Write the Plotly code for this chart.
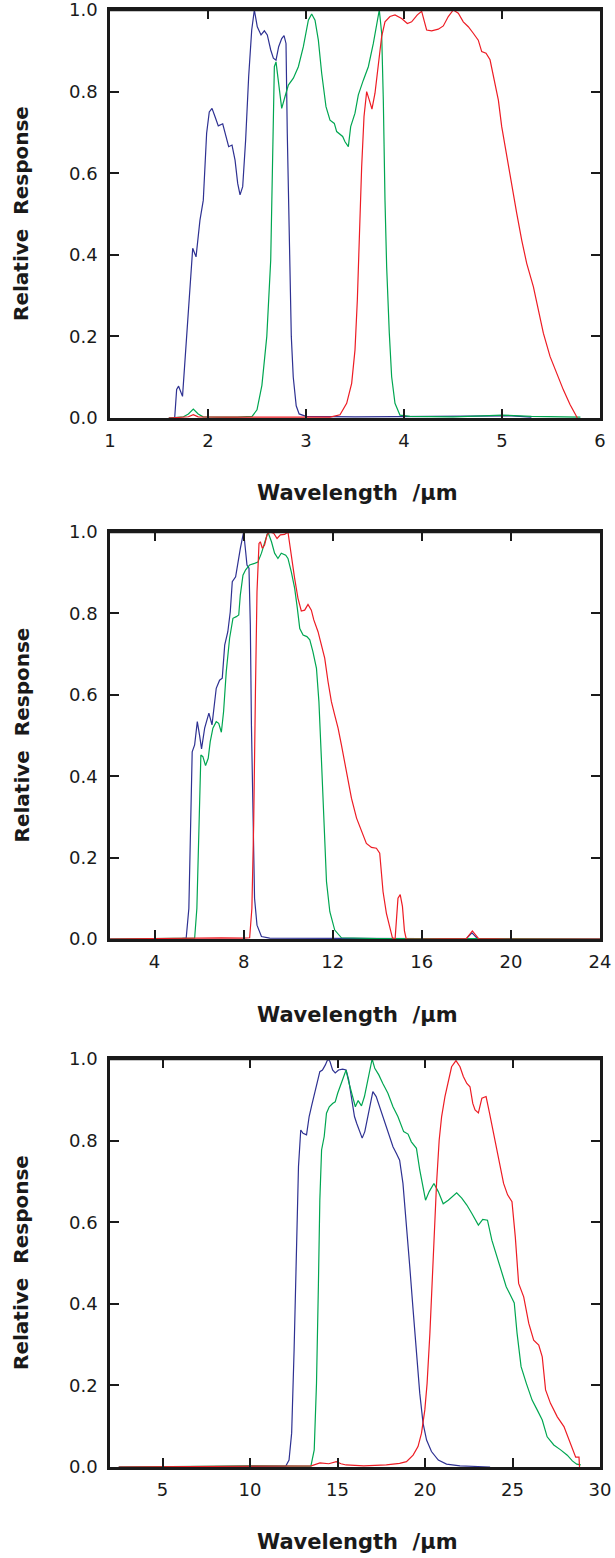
import plotly.graph_objects as go

# ---------------- Panel 1 (1-6 um) ----------------
p1_blue_x = [1.60, 1.66, 1.68, 1.70, 1.74, 1.78, 1.82, 1.844, 1.878, 1.918, 1.952, 1.986, 2.013, 2.041, 2.071,
             2.105, 2.15, 2.184, 2.211, 2.245, 2.276, 2.303, 2.327, 2.354, 2.384, 2.415, 2.446, 2.473,
             2.503, 2.541, 2.575, 2.605, 2.64, 2.667, 2.694, 2.721, 2.752, 2.776, 2.796, 2.809, 2.83,
             2.85, 2.87, 2.90, 2.93, 3.0, 3.5, 4.0, 4.5, 4.8, 5.0, 5.1, 5.3]
p1_blue_y = [0.0, 0.0, 0.07, 0.078, 0.053, 0.2, 0.35, 0.416, 0.395, 0.485, 0.534, 0.698, 0.75, 0.759, 0.739,
             0.716, 0.721, 0.69, 0.665, 0.669, 0.632, 0.575, 0.547, 0.567, 0.681, 0.837, 0.951, 1.0,
             0.959, 0.939, 0.949, 0.939, 0.902, 0.882, 0.877, 0.91, 0.93, 0.937, 0.918, 0.698, 0.395,
             0.2, 0.1, 0.03, 0.01, 0.004, 0.003, 0.004, 0.004, 0.006, 0.006, 0.005, 0.002]

p1_green_x = [1.60, 1.75, 1.80, 1.85, 1.90, 1.95, 2.1, 2.3, 2.45, 2.50, 2.55, 2.60, 2.64, 2.66, 2.677, 2.694,
              2.721, 2.752, 2.786, 2.82, 2.871, 2.922, 2.973, 3.024, 3.058, 3.092, 3.126, 3.16,
              3.204, 3.245, 3.289, 3.313, 3.374, 3.398, 3.432, 3.456, 3.5, 3.534, 3.585, 3.636,
              3.687, 3.748, 3.772, 3.789, 3.806, 3.823, 3.85, 3.874, 3.908, 3.959, 4.06, 4.5,
              4.8, 5.0, 5.3, 5.8]
p1_green_y = [0.0, 0.003, 0.01, 0.022, 0.01, 0.003, 0.002, 0.002, 0.004, 0.02, 0.08, 0.2, 0.387, 0.657, 0.861, 0.873,
              0.82, 0.759, 0.788, 0.816, 0.833, 0.861, 0.91, 0.975, 0.99, 0.975, 0.926, 0.845,
              0.763, 0.73, 0.722, 0.702, 0.69, 0.677, 0.665, 0.714, 0.747, 0.792, 0.828, 0.861,
              0.918, 1.0, 0.943, 0.779, 0.534, 0.371, 0.208, 0.101, 0.036, 0.007, 0.004, 0.003,
              0.005, 0.007, 0.004, 0.002]

p1_red_x = [1.60, 1.80, 1.85, 1.90, 2.2, 2.8, 3.245, 3.347, 3.415, 3.466, 3.5, 3.524, 3.544, 3.568, 3.592,
            3.619, 3.646, 3.673, 3.704, 3.738, 3.772, 3.806, 3.857, 3.908, 3.976, 4.034, 4.078,
            4.136, 4.18, 4.204, 4.231, 4.282, 4.35, 4.401, 4.452, 4.503, 4.554, 4.605, 4.656,
            4.707, 4.758, 4.793, 4.837, 4.878, 4.929, 4.963, 4.997, 5.048, 5.099, 5.15, 5.201,
            5.252, 5.32, 5.371, 5.422, 5.49, 5.558, 5.626, 5.694, 5.769]
p1_red_y = [0.0, 0.003, 0.008, 0.003, 0.002, 0.002, 0.002, 0.008, 0.036, 0.085, 0.167, 0.29, 0.453, 0.616, 0.739,
            0.8, 0.779, 0.757, 0.796, 0.869, 0.935, 0.971, 0.984, 0.988, 0.979, 0.967, 0.971,
            0.988, 0.997, 0.975, 0.951, 0.949, 0.953, 0.961, 0.984, 1.0, 0.992, 0.971, 0.959,
            0.943, 0.926, 0.898, 0.894, 0.878, 0.82, 0.779, 0.714, 0.641, 0.567, 0.502, 0.436,
            0.379, 0.322, 0.265, 0.208, 0.151, 0.11, 0.069, 0.033, 0.0]

# ---------------- Panel 2 (2-24 um) ----------------
p2_blue_x = [2.0, 5.0, 5.42, 5.54, 5.62, 5.69, 5.8, 5.92, 6.02, 6.11, 6.25, 6.44, 6.58, 6.65, 6.77, 6.92,
             7.04, 7.15, 7.29, 7.4, 7.49, 7.64, 7.74, 7.85, 7.94, 8.0, 8.09, 8.15, 8.24, 8.3, 8.35,
             8.42, 8.49, 8.6, 8.8, 9.17, 12.0, 16.0, 18.0, 18.25, 18.5, 20.0, 24.0]
p2_blue_y = [0.0, 0.0, 0.002, 0.075, 0.28, 0.46, 0.477, 0.534, 0.501, 0.467, 0.518, 0.555, 0.526, 0.559, 0.616, 0.636,
             0.641, 0.722, 0.755, 0.804, 0.878, 0.89, 0.927, 0.959, 0.984, 1.0, 0.952, 0.919, 0.911, 0.772, 0.526,
             0.28, 0.1, 0.034, 0.006, 0.002, 0.001, 0.001, 0.001, 0.015, 0.001, 0.0, 0.0]

p2_green_x = [2.0, 5.5, 5.8, 5.9, 5.99, 6.08, 6.17, 6.29, 6.41, 6.5, 6.62, 6.77, 6.88, 7.0, 7.1, 7.22, 7.37,
              7.52, 7.67, 7.78, 7.85, 7.97, 8.09, 8.27, 8.49, 8.64, 8.8, 8.94, 9.09, 9.25, 9.39,
              9.54, 9.69, 9.89, 9.99, 10.14, 10.29, 10.41, 10.52, 10.67, 10.84, 10.97, 11.11, 11.27,
              11.38, 11.49, 11.6, 11.72, 11.87, 12.09, 12.39, 14.0, 18.0, 24.0]
p2_green_y = [0.0, 0.001, 0.002, 0.075, 0.28, 0.452, 0.448, 0.426, 0.444, 0.485, 0.518, 0.534, 0.53, 0.508, 0.559, 0.657, 0.739,
              0.788, 0.792, 0.796, 0.845, 0.894, 0.907, 0.919, 0.923, 0.926, 0.948, 0.976, 1.0, 0.976, 0.948,
              0.935, 0.948, 0.943, 0.935, 0.902, 0.862, 0.813, 0.763, 0.747, 0.743, 0.735, 0.706, 0.665,
              0.583, 0.444, 0.28, 0.141, 0.067, 0.022, 0.003, 0.001, 0.001, 0.0]

p2_red_x = [2.0, 5.0, 6.0, 7.0, 8.0, 8.27, 8.37, 8.45, 8.53, 8.6, 8.69, 8.75, 8.84, 8.94, 9.05, 9.17, 9.35,
            9.5, 9.65, 9.84, 9.99, 10.07, 10.19, 10.29, 10.44, 10.59, 10.74, 10.89, 11.04, 11.15,
            11.34, 11.49, 11.64, 11.79, 11.94, 12.09, 12.24, 12.39, 12.54, 12.69, 12.84, 13.07,
            13.29, 13.51, 13.74, 13.96, 14.11, 14.2, 14.26, 14.41, 14.56, 14.68, 14.8, 14.93, 15.03,
            15.13, 15.22, 15.3, 16.0, 18.0, 18.27, 18.55, 20.0, 24.0]
p2_red_y = [0.0, 0.002, 0.003, 0.003, 0.002, 0.003, 0.075, 0.28, 0.608, 0.853, 0.972, 0.976, 0.96, 0.968, 0.993, 1.0, 0.997,
            0.984, 0.993, 0.994, 1.0, 0.968, 0.927, 0.886, 0.837, 0.806, 0.808, 0.822, 0.808, 0.784,
            0.755, 0.722, 0.69, 0.632, 0.583, 0.55, 0.518, 0.477, 0.436, 0.386, 0.346, 0.297,
            0.264, 0.235, 0.225, 0.223, 0.211, 0.157, 0.116, 0.063, 0.026, 0.003, 0.0, 0.1, 0.109,
            0.08, 0.02, 0.0, 0.0, 0.001, 0.02, 0.001, 0.0, 0.0]

# ---------------- Panel 3 (2-30 um) ----------------
p3_blue_x = [2.5, 6.0, 10.0, 12.04, 12.23, 12.38, 12.52, 12.65, 12.77, 12.9, 13.03, 13.23, 13.38, 13.53, 13.72,
             13.86, 13.99, 14.14, 14.3, 14.45, 14.57, 14.72, 14.87, 15.06, 15.29, 15.49, 15.64, 15.79,
             15.97, 16.1, 16.25, 16.41, 16.56, 16.73, 16.89, 17.02, 17.21, 17.4, 17.59, 17.79, 17.98,
             18.17, 18.36, 18.55, 18.74, 18.94, 19.13, 19.32, 19.51, 19.7, 19.89, 20.09, 20.37, 20.76,
             21.23, 22.0, 23.72]
p3_blue_y = [0.0, 0.001, 0.002, 0.002, 0.017, 0.083, 0.287, 0.532, 0.736, 0.826, 0.818, 0.814, 0.859, 0.887, 0.924,
             0.949, 0.969, 0.973, 0.985, 1.0, 0.994, 0.973, 0.966, 0.973, 0.975, 0.973, 0.949, 0.908,
             0.859, 0.842, 0.826, 0.806, 0.822, 0.859, 0.9, 0.92, 0.908, 0.883, 0.859, 0.83, 0.806,
             0.785, 0.769, 0.752, 0.695, 0.598, 0.491, 0.385, 0.287, 0.181, 0.107, 0.066, 0.038, 0.017,
             0.007, 0.003, 0.0]

p3_green_x = [2.5, 6.0, 10.0, 13.0, 13.48, 13.67, 13.8, 13.91, 13.99, 14.09, 14.24, 14.37, 14.53, 14.72, 14.87,
              15.01, 15.2, 15.39, 15.49, 15.64, 15.83, 16.02, 16.18, 16.37, 16.54, 16.73, 16.87,
              16.98, 17.13, 17.36, 17.59, 17.88, 18.17, 18.45, 18.78, 19.03, 19.22, 19.51, 19.7,
              19.89, 20.03, 20.24, 20.51, 20.76, 21.04, 21.33, 21.58, 21.81, 22.1, 22.39, 22.67,
              23.05, 23.3, 23.57, 23.82, 24.11, 24.4, 24.64, 24.87, 25.1, 25.26, 25.49, 25.79,
              26.12, 26.41, 26.7, 26.98, 27.36, 27.75, 28.13, 28.42, 28.67, 28.9]
p3_green_y = [0.0, 0.002, 0.003, 0.002, 0.002, 0.042, 0.205, 0.45, 0.654, 0.777, 0.81, 0.867, 0.883, 0.891, 0.895,
              0.916, 0.94, 0.961, 0.973, 0.944, 0.916, 0.883, 0.898, 0.885, 0.908, 0.949, 0.977,
              1.0, 0.977, 0.961, 0.94, 0.916, 0.883, 0.859, 0.822, 0.816, 0.797, 0.781, 0.728,
              0.679, 0.654, 0.675, 0.695, 0.675, 0.645, 0.654, 0.664, 0.672, 0.659, 0.642, 0.622,
              0.593, 0.607, 0.605, 0.556, 0.515, 0.475, 0.442, 0.422, 0.402, 0.328, 0.246, 0.205,
              0.164, 0.14, 0.115, 0.074, 0.054, 0.042, 0.029, 0.015, 0.007, 0.005]

p3_red_x = [2.5, 6.0, 10.0, 13.5, 14.0, 14.5, 14.93, 15.2, 15.49, 16.5, 17.79, 18.55, 18.94, 19.32, 19.6,
            19.8, 19.99, 20.12, 20.28, 20.41, 20.52, 20.66, 20.81, 20.95, 21.14, 21.33, 21.52,
            21.77, 22.0, 22.19, 22.39, 22.57, 22.73, 22.86, 23.05, 23.25, 23.49, 23.69, 23.91,
            24.2, 24.49, 24.72, 24.97, 25.16, 25.35, 25.64, 25.93, 26.21, 26.5, 26.7, 26.89,
            27.17, 27.56, 27.94, 28.22, 28.42, 28.61, 28.8, 28.83]
p3_red_y = [0.0, 0.001, 0.003, 0.003, 0.01, 0.008, 0.013, 0.008, 0.005, 0.003, 0.005, 0.009, 0.013, 0.029, 0.05,
            0.083, 0.14, 0.205, 0.328, 0.45, 0.573, 0.695, 0.801, 0.859, 0.908, 0.949, 0.981,
            0.996, 0.981, 0.957, 0.94, 0.932, 0.891, 0.875, 0.868, 0.904, 0.908, 0.867, 0.818,
            0.761, 0.695, 0.667, 0.65, 0.564, 0.45, 0.417, 0.352, 0.311, 0.299, 0.27, 0.189,
            0.156, 0.123, 0.099, 0.066, 0.042, 0.024, 0.024, 0.0]

# ---------------- axis settings ----------------
x_ranges = [[1, 6], [2, 24], [2, 30]]
x_ticks = [[1, 2, 3, 4, 5, 6], [4, 8, 12, 16, 20, 24], [5, 10, 15, 20, 25, 30]]
y_ticks = [0.0, 0.2, 0.4, 0.6, 0.8, 1.0]
y_ticklabels = ["0.0", "0.2", "0.4", "0.6", "0.8", "1.0"]

BLUE = "#2e3192"
GREEN = "#00a651"
RED = "#ed1c24"
INK = "#1a1a1a"

W, H = 615, 1558
ML, MR, MT, MB = 110, 15, 10, 91
PH = H - MT - MB
PW = W - ML - MR

def py2paper(py):
    return 1 - (py - MT) / PH

def px2paper(px):
    return (px - ML) / PW

panel_px = [(10, 418), (532, 939), (1059, 1467)]
xtitle_py = [493, 1015, 1542]

fig = go.Figure()
panels = [
    (p1_blue_x, p1_blue_y, p1_green_x, p1_green_y, p1_red_x, p1_red_y),
    (p2_blue_x, p2_blue_y, p2_green_x, p2_green_y, p2_red_x, p2_red_y),
    (p3_blue_x, p3_blue_y, p3_green_x, p3_green_y, p3_red_x, p3_red_y),
]
for i, (bx, by, gx, gy, rx, ry) in enumerate(panels):
    suf = "" if i == 0 else str(i + 1)
    for xs, ys, col in [(bx, by, BLUE), (gx, gy, GREEN), (rx, ry, RED)]:
        fig.add_trace(go.Scatter(x=xs, y=ys, mode="lines", line=dict(color=col, width=1.2),
                                 xaxis="x" + suf, yaxis="y" + suf, showlegend=False,
                                 hoverinfo="skip", cliponaxis=False))

axis_common = dict(showline=True, linecolor=INK, linewidth=2.5, mirror="allticks",
                   ticks="inside", ticklen=9, tickwidth=2, tickcolor=INK,
                   showgrid=False, zeroline=False, automargin=False,
                   ticklabeloverflow="allow", layer="above traces",
                   tickfont=dict(family="DejaVu Sans", size=18, color=INK))

layout = dict(width=W, height=H, margin=dict(l=ML, r=MR, t=MT, b=MB, autoexpand=False),
              paper_bgcolor="white", plot_bgcolor="white", showlegend=False)
annotations = []
shapes = []
for i in range(3):
    suf = "" if i == 0 else str(i + 1)
    top, bot = panel_px[i]
    dom = [py2paper(bot), py2paper(top)]
    layout["xaxis" + suf] = dict(axis_common, range=x_ranges[i], tickvals=x_ticks[i],
                                 anchor="y" + suf, domain=[0, 1], ticklabelstandoff=5)
    layout["yaxis" + suf] = dict(axis_common, range=[0, 1.0], tickvals=y_ticks,
                                 ticktext=y_ticklabels, anchor="x" + suf, domain=dom,
                                 ticklabelstandoff=6)
    shapes.append(dict(type="line", xref="x" + suf + " domain", yref="y" + suf + " domain",
                       x0=0, x1=1, y0=1, y1=1, line=dict(color=INK, width=2.5), layer="above"))
    annotations.append(dict(text="Wavelength\u00a0\u00a0/\u03bcm", xref="paper", yref="paper",
                            x=px2paper(357), y=py2paper(xtitle_py[i]), xanchor="center",
                            yanchor="middle", showarrow=False,
                            font=dict(family="DejaVu Sans", size=21, color=INK, weight="bold")))
    annotations.append(dict(text="Relative\u00a0\u00a0Response", xref="paper", yref="paper",
                            x=px2paper(21), y=py2paper((top + bot) / 2), xanchor="center",
                            yanchor="middle", showarrow=False, textangle=-90,
                            font=dict(family="DejaVu Sans", size=20, color=INK, weight="bold")))
layout["annotations"] = annotations
layout["shapes"] = shapes
fig.update_layout(**layout)
fig.write_html("out.html", config={"displayModeBar": False})
